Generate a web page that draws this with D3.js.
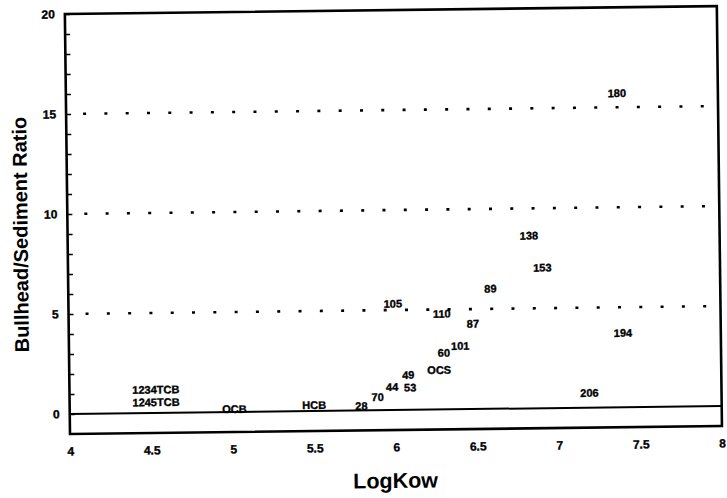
<!DOCTYPE html>
<html>
<head>
<meta charset="utf-8">
<script src="https://cdn.jsdelivr.net/npm/d3@7"></script>
<style>
  html, body { margin: 0; padding: 0; background: #fff; }
  svg { display: block; }
  text { font-family: "Liberation Sans", Arial, sans-serif; fill: #000; }
</style>
</head>
<body>
<svg id="chart" width="727" height="498"></svg>
<script>
// ---- data ----
const labels  = ["1234TCB","1245TCB","OCB","HCB","28","70","44","53","49","OCS","60","101","87","110","105","89","153","138","194","206","180"];
const logKow  = [4.53, 4.53, 5.01, 5.50, 5.79, 5.89, 5.98, 6.09, 6.08, 6.27, 6.30, 6.40, 6.48, 6.29, 5.99, 6.59, 6.91, 6.83, 7.40, 7.19, 7.38];
const ratio   = [1.17, 0.54, 0.15, 0.30, 0.22, 0.66, 1.16, 1.12, 1.75, 1.98, 2.83, 3.17, 4.27, 4.79, 5.32, 6.01, 7.03, 8.64, 3.72, 0.74, 15.71];
const xTicks  = [4, 4.5, 5, 5.5, 6, 6.5, 7, 7.5, 8];
const xTickLabels = ["4", "4.5", "5", "5.5", "6", "6.5", "7", "7.5", "8"];
const yTicks  = [0, 5, 10, 15, 20];
const yMinorTicks = d3.range(0, 21);
const refLines = [5, 10, 15];
const xTitle = "LogKow";
const yTitle = "Bullhead/Sediment Ratio";

// ---- layout ----
const mLeft = 70, mRight = 722, mTop = 14, mBottom = 434;
const x = d3.scaleLinear().domain([4, 8]).range([mLeft, mRight]);
const y = d3.scaleLinear().domain([-1, 20]).range([mBottom, mTop]);

const svg = d3.select("#chart");
svg.append("rect").attr("width", 727).attr("height", 498).attr("fill", "#fff");

// whole page slightly rotated like the scanned original
const g = svg.append("g").attr("transform", `rotate(-0.7, ${mLeft}, ${mBottom})`);

// reference dotted lines
g.selectAll("line.ref").data(refLines).join("line")
  .attr("class", "ref")
  .attr("x1", x(4) + 17).attr("x2", x(8) - 2)
  .attr("y1", d => y(d)).attr("y2", d => y(d))
  .attr("stroke", "#000").attr("stroke-width", 2.6)
  .attr("stroke-dasharray", "3 18.3");

// zero line
g.append("line")
  .attr("x1", x(4)).attr("x2", x(8))
  .attr("y1", y(0)).attr("y2", y(0))
  .attr("stroke", "#000").attr("stroke-width", 2);

// minor inner ticks on the left axis
g.append("g")
  .attr("transform", `translate(${mLeft},0)`)
  .call(d3.axisRight(y).tickValues(yMinorTicks).tickSize(5).tickFormat(""))
  .call(a => a.select(".domain").remove())
  .call(a => a.selectAll("line").attr("stroke", "#000").attr("stroke-width", 1.5));

const heavy = sel => sel
  .style("font-family", "'Liberation Sans', Arial, sans-serif")
  .style("font-weight", "bold").attr("fill", "#000")
  .attr("stroke", "#000").attr("stroke-width", 0.35);

// y labels
g.append("g")
  .attr("transform", `translate(${mLeft},0)`)
  .call(d3.axisLeft(y).tickValues(yTicks).tickSize(0).tickPadding(10).tickFormat(d3.format("d")))
  .call(a => a.select(".domain").remove())
  .call(a => a.selectAll("text").call(heavy).style("font-size", "12px"));

// x labels
g.append("g")
  .attr("transform", `translate(0,${mBottom})`)
  .call(d3.axisBottom(x).tickValues(xTicks).tickSize(0).tickPadding(13)
    .tickFormat((d, i) => xTickLabels[i]))
  .call(a => a.select(".domain").remove())
  .call(a => a.selectAll("text").call(heavy).style("font-size", "12px"));

// frame
g.append("rect")
  .attr("x", mLeft).attr("y", mTop)
  .attr("width", mRight - mLeft).attr("height", mBottom - mTop)
  .attr("fill", "none").attr("stroke", "#000").attr("stroke-width", 2.6);

// point labels (labels are the markers)
const pts = labels.map((l, i) => ({ label: l, x: logKow[i], y: ratio[i] }));
g.selectAll("text.pt").data(pts).join("text")
  .attr("class", "pt")
  .attr("x", d => x(d.x)).attr("y", d => y(d.y))
  .attr("dy", "0.36em")
  .attr("text-anchor", "middle")
  .call(heavy)
  .style("font-size", "11px")
  .text(d => d.label);

// axis titles
g.append("text")
  .attr("x", (mLeft + mRight) / 2 - 1).attr("y", 492)
  .attr("text-anchor", "middle")
  .style("font-size", "21.5px").style("font-weight", "bold")
  .text(xTitle);

g.append("text")
  .attr("transform", `translate(30,${(mTop + mBottom) / 2 + 10}) rotate(-90)`)
  .attr("text-anchor", "middle")
  .style("font-size", "20px").style("font-weight", "bold")
  .text(yTitle);
</script>
</body>
</html>
